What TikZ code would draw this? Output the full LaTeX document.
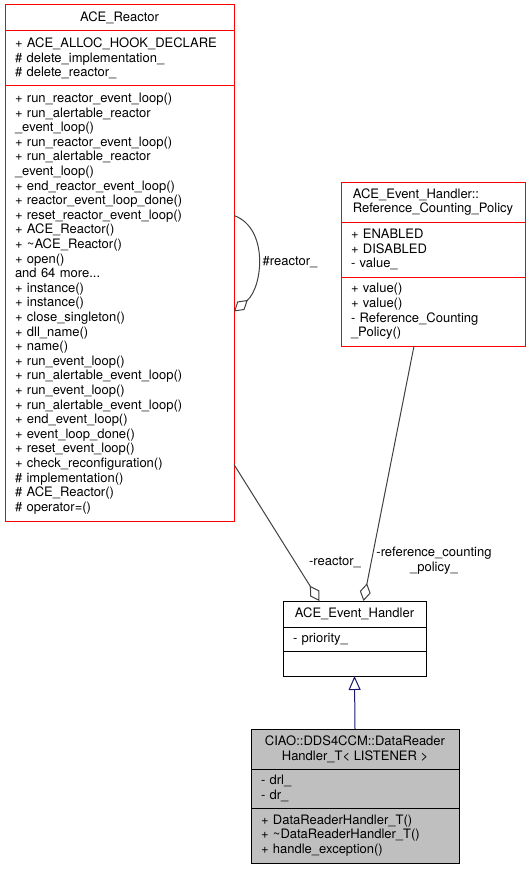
\documentclass[tikz,border=0pt]{standalone}
\usepackage{fontspec}
\setmainfont{TeX Gyre Heros}
\usepackage{xcolor}
\usetikzlibrary{positioning,arrows.meta}
\definecolor{edge-gray}{HTML}{404040}
\definecolor{midnight-blue}{HTML}{191970}
\definecolor{doc-gray}{HTML}{BFBFBF}
\newcommand{\umlfont}{\fontsize{13}{14.6}\selectfont}
\tikzset{
    uml-part/.style = {draw=red, line width=1pt, rectangle, inner xsep=10pt, inner ysep=2pt, outer sep=0pt, font=\umlfont},
    uml-title/.style = {uml-part, align=center},
    uml-members/.style = {uml-part, align=left},
    uml-aggregation/.style = {draw=edge-gray, line width=1pt, -{Diamond[open, length=18pt, width=11pt]}},
    uml-inheritance/.style = {draw=midnight-blue, line width=1pt, -{Triangle[open, length=14pt, width=12pt]}},
    uml-label/.style = {font=\umlfont, inner sep=1pt, align=center},
}

\begin{document}
\begin{tikzpicture}[x=1pt, y=-1pt]
\useasboundingbox (0,0) rectangle (531,869);

\node[uml-title, anchor=north west, minimum width=229pt, minimum height=26pt] (reactor-title) at (5,5) {ACE\_Reactor};
\node[uml-members, below=0pt of reactor-title, text width=209pt, minimum height=55pt] (reactor-attr) {+ ACE\_ALLOC\_HOOK\_DECLARE\\\# delete\_implementation\_\\\# delete\_reactor\_};
\node[uml-members, below=0pt of reactor-attr, text width=209pt, minimum height=435pt] (reactor-ops) {+ run\_reactor\_event\_loop()\\+ run\_alertable\_reactor\\\_event\_loop()\\+ run\_reactor\_event\_loop()\\+ run\_alertable\_reactor\\\_event\_loop()\\+ end\_reactor\_event\_loop()\\+ reactor\_event\_loop\_done()\\+ reset\_reactor\_event\_loop()\\+ ACE\_Reactor()\\+ \textasciitilde ACE\_Reactor()\\+ open()\\and 64 more...\\+ instance()\\+ instance()\\+ close\_singleton()\\+ dll\_name()\\+ name()\\+ run\_event\_loop()\\+ run\_alertable\_event\_loop()\\+ run\_event\_loop()\\+ run\_alertable\_event\_loop()\\+ end\_event\_loop()\\+ event\_loop\_done()\\+ reset\_event\_loop()\\+ check\_reconfiguration()\\\# implementation()\\\# ACE\_Reactor()\\\# operator=()};

\node[uml-title, align=left, anchor=north west, minimum width=184pt, minimum height=40pt] (policy-title) at (341,182) {ACE\_Event\_Handler::\\Reference\_Counting\_Policy};
\node[uml-members, below=0pt of policy-title, text width=164pt, minimum height=55pt] (policy-attr) {+ ENABLED\\+ DISABLED\\- value\_};
\node[uml-members, below=0pt of policy-attr, text width=164pt, minimum height=69pt] (policy-ops) {+ value()\\+ value()\\- Reference\_Counting\\\_Policy()};

\node[uml-title, draw=black, anchor=north west, minimum width=143pt, minimum height=26pt] (handler-title) at (283,601) {ACE\_Event\_Handler};
\node[uml-members, draw=black, below=0pt of handler-title, text width=123pt, minimum height=24pt] (handler-attr) {- priority\_};
\node[uml-members, draw=black, below=0pt of handler-attr, text width=123pt, minimum height=25pt] (handler-ops) {};

\node[uml-title, draw=black, fill=doc-gray, anchor=north west, minimum width=208pt, minimum height=40pt] (drh-title) at (251,729) {CIAO::DDS4CCM::DataReader\\Handler\_T< LISTENER >};
\node[uml-members, draw=black, fill=doc-gray, below=0pt of drh-title, text width=188pt, minimum height=39pt] (drh-attr) {- drl\_\\- dr\_};
\node[uml-members, draw=black, fill=doc-gray, below=0pt of drh-attr, text width=188pt, minimum height=55pt] (drh-ops) {+ DataReaderHandler\_T()\\+ \textasciitilde DataReaderHandler\_T()\\+ handle\_exception()};

\draw[uml-aggregation] ([yshift=88pt]reactor-ops.east) to[out=-20, in=40] ([yshift=-8pt]reactor-ops.east);
\node[uml-label] (reactor-self-label) at (290,262) {\#reactor\_};

\draw[uml-aggregation] ([yshift=-161pt]reactor-ops.east) -- ([xshift=-35pt]handler-title.north);
\node[uml-label] (reactor-label) at (335,562) {-reactor\_};

\draw[uml-aggregation] ([xshift=-19pt]policy-ops.south) -- ([xshift=9pt]handler-title.north);
\node[uml-label] (policy-label) at (434,560.5) {-reference\_counting\\\_policy\_};

\draw[uml-inheritance] (drh-title.north) -- (handler-ops.south);
\end{tikzpicture}
\end{document}
